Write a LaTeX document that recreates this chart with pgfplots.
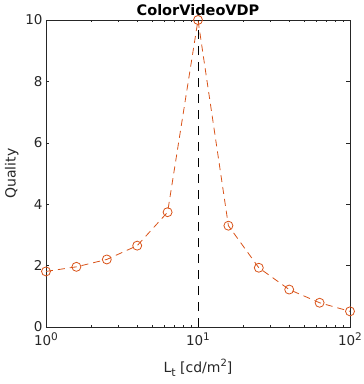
\documentclass[border=0pt]{standalone}
\usepackage{pgfplots}
\pgfplotsset{compat=1.18}
\usepackage{fontspec}
\setmainfont{DejaVu Sans}
\definecolor{mlorange}{rgb}{0.85,0.325,0.098}
\definecolor{axgray}{rgb}{0.15,0.15,0.15}
\begin{document}
\begin{tikzpicture}[x=1pt,y=1pt]
\useasboundingbox (0,0) rectangle (364,384);
\begin{axis}[
  at={(46pt,57pt)}, anchor=south west,
  scale only axis, width=304pt, height=307pt,
  xmode=log, xmin=1, xmax=100, ymin=0, ymax=10,
  ytick={0,2,4,6,8,10},
  xtick={1,10,100},
  minor xtick={2,3,4,5,6,7,8,9,20,30,40,50,60,70,80,90},
  log basis x=10,
  tick align=inside,
  major tick length=3.5pt, minor tick length=2.2pt,
  axis line style={axgray, line width=0.6pt},
  every tick/.style={axgray, line width=0.6pt},
  tick label style={font=\fontsize{13.5}{15}\selectfont, text=axgray},
  /pgf/number format/assume math mode=true,
  xticklabel={10\raisebox{0.75ex}{\fontsize{10.5}{12}\selectfont\pgfmathparse{int(round(\tick))}\pgfmathresult}},
  xticklabel style={yshift=-2pt, anchor=north},
  title={ColorVideoVDP},
  title style={font=\fontsize{14.5}{16}\selectfont\bfseries, yshift=-5pt},
  xlabel={L\raisebox{-0.55ex}{\fontsize{11}{12}\selectfont t} [cd/m\raisebox{0.75ex}{\fontsize{10}{12}\selectfont 2}]},
  ylabel={Quality},
  label style={font=\fontsize{14}{16}\selectfont, text=axgray},
  xlabel style={yshift=-6pt},
  ylabel style={yshift=0pt},
  clip=false,
]
\addplot[black, line width=0.8pt, dash pattern=on 9pt off 7pt] coordinates {(10,0) (10,10)};
\addplot[mlorange, line width=0.8pt, dash pattern=on 7pt off 5pt,
  mark=o, mark size=4.5pt, mark options={solid, line width=0.8pt}]
coordinates {
(1,1.81) (1.585,1.96) (2.512,2.20) (3.981,2.65) (6.310,3.74) (10,10) (15.85,3.30) (25.12,1.93) (39.81,1.22) (63.10,0.79) (100,0.51)
};
\end{axis}
\end{tikzpicture}
\end{document}
